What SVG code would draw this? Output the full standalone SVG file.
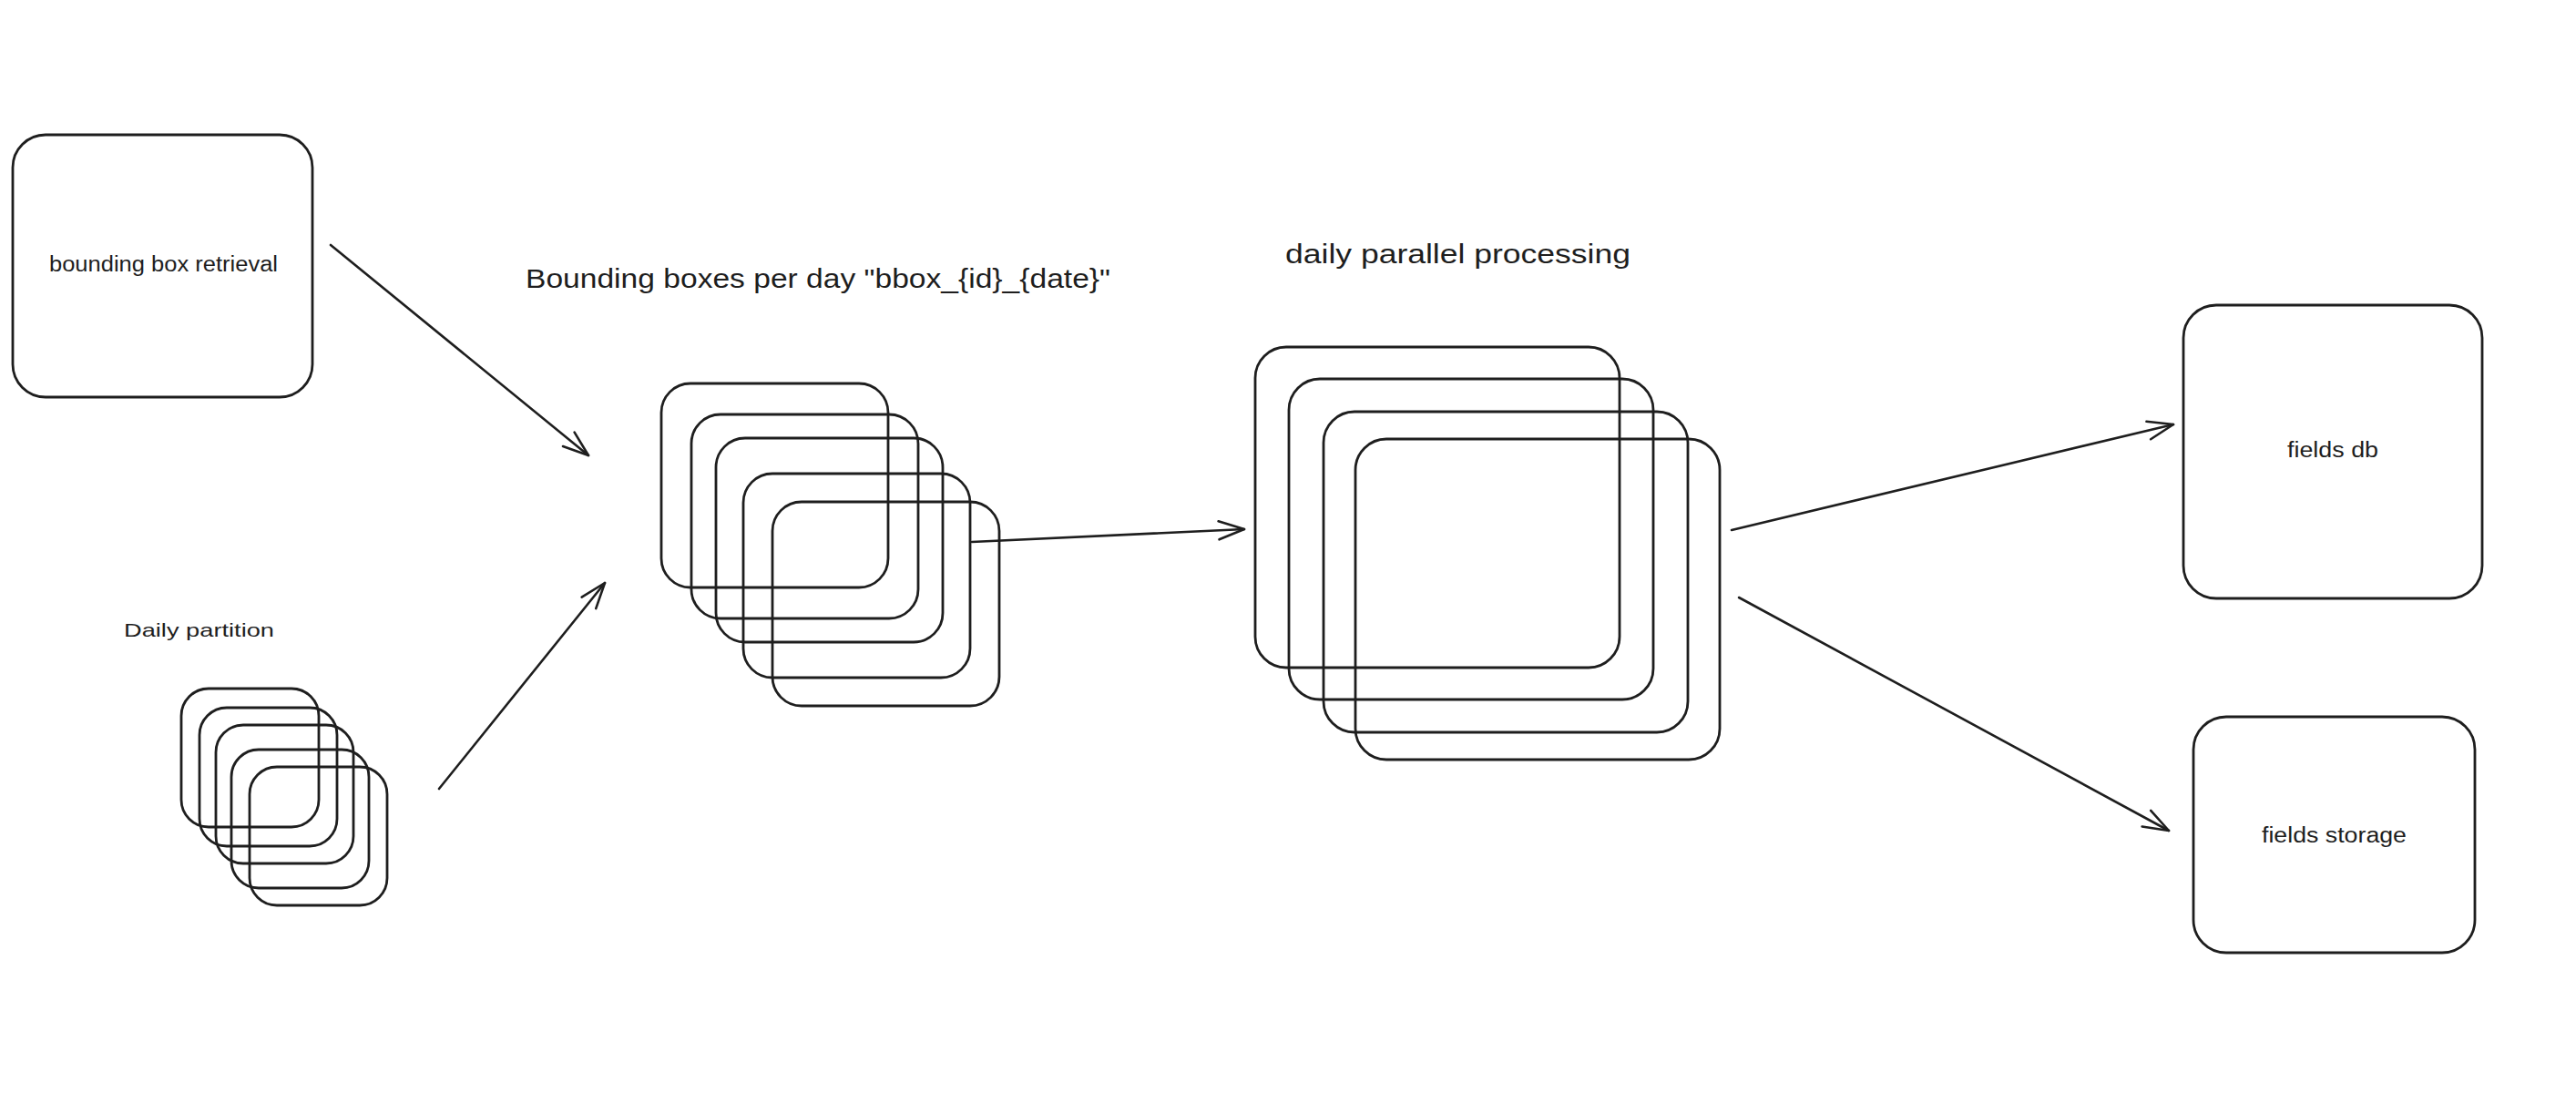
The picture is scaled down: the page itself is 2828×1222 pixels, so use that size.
<svg xmlns="http://www.w3.org/2000/svg" width="2828" height="1222" viewBox="0 0 2828 1222">
<style>
.box{fill:none;stroke:#1e1e1e;stroke-width:2.8}
.lbl{font-family:"Liberation Sans","DejaVu Sans",sans-serif;fill:#1e1e1e}
.edge{fill:none;stroke:#1e1e1e;stroke-width:2.6;stroke-linecap:round;marker-end:url(#ah)}
</style>
<defs>
<marker id="ah" markerUnits="userSpaceOnUse" markerWidth="40" markerHeight="40" refX="0" refY="0" orient="auto" overflow="visible">
<path d="M -28 -10 L 0 0 L -28 10" fill="none" stroke="#1e1e1e" stroke-width="2.6" stroke-linecap="round" stroke-linejoin="round"/>
</marker>
</defs>
<rect width="2828" height="1222" fill="#ffffff"/>
<g id="bbox-retrieval">
<rect class="box" x="14" y="148" width="329" height="288" rx="36"/>
<text class="lbl" x="54" y="298" font-size="23" textLength="251" lengthAdjust="spacingAndGlyphs">bounding box retrieval</text>
</g>
<g id="daily-partition">
<text class="lbl" x="136" y="699" font-size="21" textLength="165" lengthAdjust="spacingAndGlyphs">Daily partition</text>
<rect class="box" x="199" y="756" width="151" height="152" rx="30"/>
<rect class="box" x="219" y="777" width="151" height="152" rx="30"/>
<rect class="box" x="237" y="796" width="151" height="152" rx="30"/>
<rect class="box" x="254" y="823" width="151" height="152" rx="30"/>
<rect class="box" x="274" y="842" width="151" height="152" rx="30"/>
</g>
<g id="bbox-per-day">
<text class="lbl" x="577" y="316" font-size="30" textLength="642" lengthAdjust="spacingAndGlyphs">Bounding boxes per day "bbox_{id}_{date}"</text>
<rect class="box" x="726" y="421" width="249" height="224" rx="32"/>
<rect class="box" x="759" y="455" width="249" height="224" rx="32"/>
<rect class="box" x="786" y="481" width="249" height="224" rx="32"/>
<rect class="box" x="816" y="520" width="249" height="224" rx="32"/>
<rect class="box" x="848" y="551" width="249" height="224" rx="32"/>
</g>
<g id="daily-parallel-processing">
<text class="lbl" x="1411" y="289" font-size="30" textLength="379" lengthAdjust="spacingAndGlyphs">daily parallel processing</text>
<rect class="box" x="1378" y="381" width="400" height="352" rx="34"/>
<rect class="box" x="1415" y="416" width="400" height="352" rx="34"/>
<rect class="box" x="1453" y="452" width="400" height="352" rx="34"/>
<rect class="box" x="1488" y="482" width="400" height="352" rx="34"/>
</g>
<g id="fields-db">
<rect class="box" x="2397" y="335" width="328" height="322" rx="36"/>
<text class="lbl" x="2511" y="502" font-size="23" textLength="100" lengthAdjust="spacingAndGlyphs">fields db</text>
</g>
<g id="fields-storage">
<rect class="box" x="2408" y="787" width="309" height="259" rx="36"/>
<text class="lbl" x="2483" y="925" font-size="23" textLength="159" lengthAdjust="spacingAndGlyphs">fields storage</text>
</g>
<g id="connectors">
<path class="edge" d="M 363 269 L 646 500"/>
<path class="edge" d="M 482 866 L 664 640"/>
<path class="edge" d="M 1067 595 L 1366 581"/>
<path class="edge" d="M 1901 582 L 2386 466"/>
<path class="edge" d="M 1909 656 L 2381 912"/>
</g>
</svg>
